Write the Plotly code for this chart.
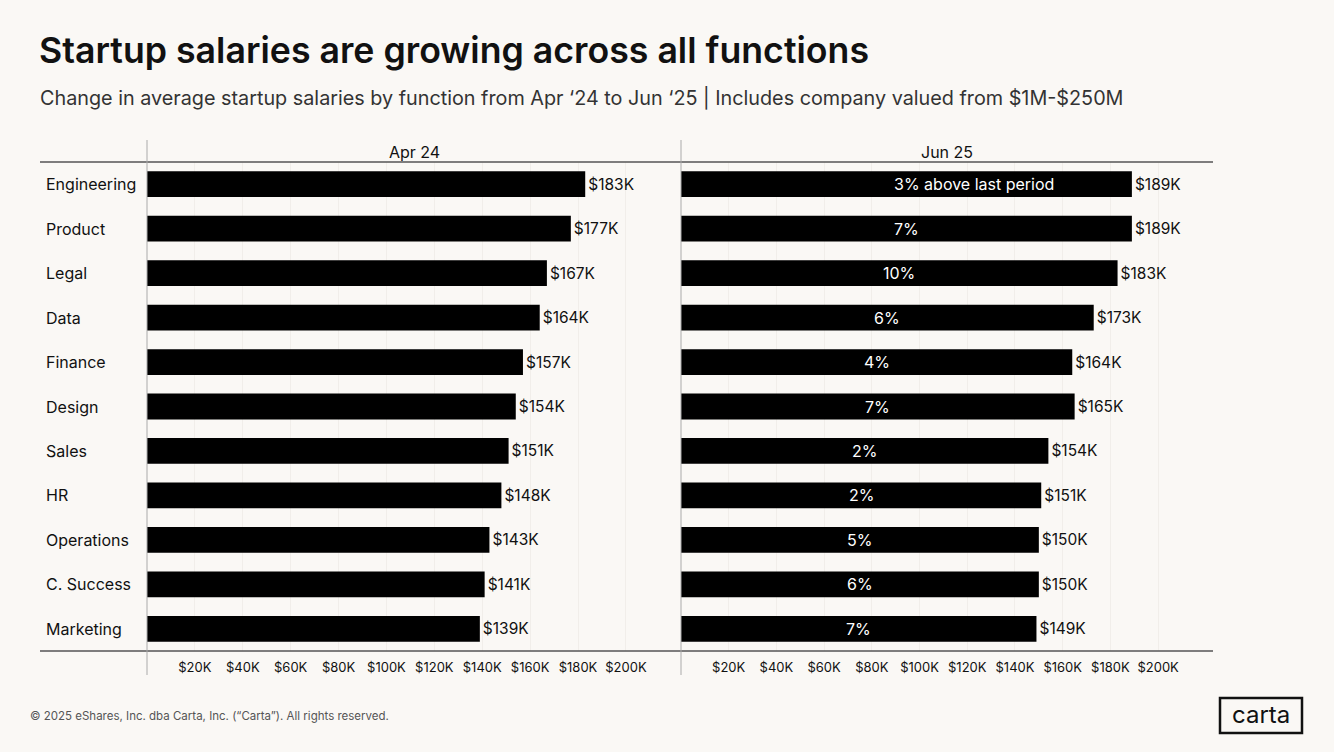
import plotly.graph_objects as go

# data (values in $K)
categories = ["Engineering", "Product", "Legal", "Data", "Finance", "Design",
              "Sales", "HR", "Operations", "C. Success", "Marketing"]
apr24 = [183, 177, 167, 164, 157, 154, 151, 148, 143, 141, 139]
jun25 = [189, 189, 183, 173, 164, 165, 154, 151, 150, 150, 149]
pct_change = [3, 7, 10, 6, 4, 7, 2, 2, 5, 6, 7]
tick_vals = [20, 40, 60, 80, 100, 120, 140, 160, 180, 200]
tick_text = ["$20K", "$40K", "$60K", "$80K", "$100K", "$120K", "$140K",
             "$160K", "$180K", "$200K"]
panel_titles = ["Apr 24", "Jun 25"]

# page body has an 8px margin, so the figure is sized to fit inside it
OFF = 8
W, H = 1334 - 2 * OFF, 752 - 2 * OFF
BG = "#FAF8F5"
FONT = "Inter"


def px(x):
    return (x - OFF) / W


def py(y):
    return 1 - (y - OFF) / H


left_dom = [px(147), px(681)]
right_dom = [px(681), px(1213)]
y_dom = [py(651), py(162)]

fig = go.Figure()

fig.add_trace(go.Bar(
    y=categories, x=apr24, orientation="h",
    marker=dict(color="black", line=dict(width=0)),
    text=[f"${v}K" for v in apr24], textposition="outside",
    textfont=dict(family=FONT, size=15.5, color="#111"),
    cliponaxis=False, xaxis="x", yaxis="y", showlegend=False,
))
fig.add_trace(go.Bar(
    y=categories, x=jun25, orientation="h",
    marker=dict(color="black", line=dict(width=0)),
    text=[f"${v}K" for v in jun25], textposition="outside",
    textfont=dict(family=FONT, size=15.5, color="#111"),
    cliponaxis=False, xaxis="x2", yaxis="y2", showlegend=False,
))

# percent labels inside the Jun 25 bars
for i, (cat, v, p) in enumerate(zip(categories, jun25, pct_change)):
    if i == 0:
        fig.add_annotation(x=v / 2, y=cat, xref="x2", yref="y2",
                           text=f"{p}% above last period", showarrow=False,
                           xanchor="left", yanchor="middle", xshift=-14,
                           font=dict(family=FONT, size=16, color="white"))
    else:
        fig.add_annotation(x=v / 2, y=cat, xref="x2", yref="y2",
                           text=f"{p}%", showarrow=False,
                           xanchor="center", yanchor="middle",
                           font=dict(family=FONT, size=16, color="white"))

# category labels, left aligned
for cat in categories:
    fig.add_annotation(x=px(44), y=cat, xref="paper", yref="y",
                       text=cat, showarrow=False, xanchor="left", yanchor="middle",
                       font=dict(family=FONT, size=16, color="#111"))

# panel headers
for title, dom in zip(panel_titles, [left_dom, right_dom]):
    fig.add_annotation(x=(dom[0] + dom[1]) / 2, y=py(152), xref="paper", yref="paper",
                       text=title, showarrow=False, xanchor="center", yanchor="middle",
                       font=dict(family=FONT, size=16, color="#111"))

# title, subtitle, footer, logo
fig.add_annotation(x=px(37), y=py(50), xref="paper", yref="paper",
                   text="Startup salaries are growing across all functions",
                   showarrow=False, xanchor="left", yanchor="middle",
                   font=dict(family=FONT, size=35.7, color="#111", weight=600))
fig.add_annotation(x=px(38), y=py(98), xref="paper", yref="paper",
                   text="Change in average startup salaries by function from Apr ‘24 to Jun ‘25 | Includes company valued from $1M-$250M",
                   showarrow=False, xanchor="left", yanchor="middle",
                   font=dict(family=FONT, size=19.8, color="#333"))
fig.add_annotation(x=px(28), y=py(716), xref="paper", yref="paper",
                   text="© 2025 eShares, Inc. dba Carta, Inc. (“Carta”). All rights reserved.",
                   showarrow=False, xanchor="left", yanchor="middle",
                   font=dict(family=FONT, size=11.5, color="#555"))
fig.add_annotation(x=px(1261), y=py(714), xref="paper", yref="paper",
                   text="carta", showarrow=False, xanchor="center", yanchor="middle",
                   font=dict(family=FONT, size=24, color="#111"))
fig.add_shape(type="rect", xref="paper", yref="paper",
              x0=px(1220), x1=px(1302), y0=py(733), y1=py(698),
              line=dict(color="#111", width=2.5))

# frame lines
for y in [162, 651]:
    fig.add_shape(type="line", xref="paper", yref="paper",
                  x0=px(40), x1=px(1213), y0=py(y), y1=py(y),
                  line=dict(color="#555", width=1.5))
for x in [147, 681]:
    fig.add_shape(type="line", xref="paper", yref="paper",
                  x0=px(x), x1=px(x), y0=py(675), y1=py(140),
                  line=dict(color="#AAA", width=1))

axis_common = dict(range=[0, 223], tickvals=tick_vals, ticktext=tick_text,
                   showgrid=True, gridcolor="#F1EEEA", zeroline=False,
                   showline=False, ticks="", ticklabelstandoff=7,
                   tickfont=dict(family=FONT, size=13, color="#111"))

fig.update_layout(
    width=W, height=H,
    margin=dict(l=0, r=0, t=0, b=0),
    paper_bgcolor=BG, plot_bgcolor=BG,
    bargap=0.42,
    font=dict(family=FONT),
    xaxis=dict(domain=left_dom, anchor="y", **axis_common),
    xaxis2=dict(domain=right_dom, anchor="y2", **axis_common),
    yaxis=dict(domain=y_dom, autorange="reversed", showticklabels=False,
               showgrid=False, zeroline=False, anchor="x"),
    yaxis2=dict(domain=y_dom, autorange="reversed", showticklabels=False,
                showgrid=False, zeroline=False, anchor="x2"),
)

fig.write_html("out.html",
               post_script=f"document.body.style.background='{BG}';")
